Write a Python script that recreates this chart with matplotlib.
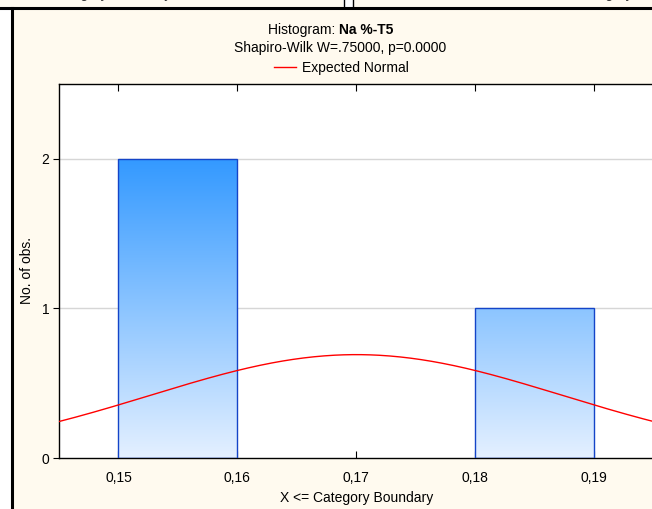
import numpy as np
import matplotlib
matplotlib.use("Agg")
import matplotlib.pyplot as plt
from matplotlib.colors import LinearSegmentedColormap
from matplotlib.lines import Line2D
from matplotlib.patches import Rectangle

plt.rcParams['font.family'] = ['Liberation Sans', 'DejaVu Sans']

# data
bin_left = [0.15, 0.18]
bin_right = [0.16, 0.19]
counts = [2, 1]
observations = [0.16, 0.16, 0.19]   # X <= upper boundary
bin_width = 0.01
x_ticks = [0.15, 0.16, 0.17, 0.18, 0.19]
x_tick_labels = ["0,15", "0,16", "0,17", "0,18", "0,19"]
y_ticks = [0, 1, 2]

W, H = 652, 509
cream = "#fffaef"

fig = plt.figure(figsize=(W / 100, H / 100), dpi=100, facecolor=cream)

def px(x, y):
    # pixel coords (origin top-left) -> figure fraction
    return x / W, 1 - y / H

# panel frame bits (cropped screenshot)
fig.add_artist(Rectangle((0, 0), 11 / W, 1 - 9 / H, transform=fig.transFigure,
                         facecolor="white", edgecolor="none", zorder=0))
fig.add_artist(Rectangle((343 / W, 1 - 8 / H), 10 / W, 8 / H, transform=fig.transFigure,
                         facecolor="white", edgecolor="none", zorder=0))
fig.add_artist(Line2D([0, 1], [1 - 8 / H] * 2, transform=fig.transFigure, color="black", lw=2.2))
fig.add_artist(Line2D([11.5 / W] * 2, [0, 1 - 8 / H], transform=fig.transFigure, color="black", lw=2.2))
for xx in (343.5, 352.5):
    fig.add_artist(Line2D([xx / W] * 2, [1 - 8 / H, 1], transform=fig.transFigure, color="black", lw=1))
# x labels of the panels above, cropped by the screenshot
fig.text(*px(95, -2), "X <= Category Boundary", ha="center", va="baseline", fontsize=10, color="#333333")
fig.text(*px(620, -2), "X <= Category Boundary", ha="center", va="baseline", fontsize=10, color="#333333")

ax = fig.add_axes([59 / W, (H - 458) / H, (653.5 - 59) / W, (458 - 84) / H])
ax.set_facecolor("white")

# gridlines
for yv in y_ticks[1:]:
    ax.axhline(yv, color="#d6d6d6", lw=1, zorder=1)

# gradient-filled bars
cmap = LinearSegmentedColormap.from_list("bluegrad", ["#e4f0ff", "#3399ff"])
grad = np.linspace(0, 1, 256).reshape(-1, 1)
top = max(counts)
for l, r, c in zip(bin_left, bin_right, counts):
    rect = Rectangle((l, 0), r - l, c, facecolor="none", edgecolor="#1444c8", lw=1, zorder=3)
    ax.add_patch(rect)
    im = ax.imshow(grad, cmap=cmap, origin="lower", extent=[l, r, 0, top],
                   aspect="auto", zorder=2, interpolation="bilinear")
    im.set_clip_path(rect)
ax.set_xlim(0.145, 0.195)
ax.set_ylim(0, 2.5)

# expected normal curve
obs = np.array(observations)
mu, sd = obs.mean(), obs.std(ddof=1)
xs = np.linspace(0.145, 0.195, 400)
ys = len(obs) * bin_width / (sd * np.sqrt(2 * np.pi)) * np.exp(-(xs - mu) ** 2 / (2 * sd ** 2))
ax.plot(xs, ys, color="#ff0000", lw=1, zorder=4)

ax.set_xticks(x_ticks)
ax.set_xticklabels(x_tick_labels)
ax.set_yticks(y_ticks)
ax.tick_params(axis="x", direction="in", length=5, pad=9, labelsize=10, top=True)
ax.tick_params(axis="y", direction="out", length=4, pad=3, labelsize=10)
for s in ax.spines.values():
    s.set_linewidth(1)
ax.set_xlabel("X <= Category Boundary", fontsize=10, labelpad=5)
ax.set_ylabel("No. of obs.", fontsize=10)
ax.yaxis.set_label_coords((34 - 59) / (653.5 - 59), 0.5)

# titles and legend
fig.text(*px(339, 34), "Histogram: ", ha="right", va="baseline", fontsize=10)
fig.text(*px(339, 34), "Na %-T5", ha="left", va="baseline", fontsize=10, fontweight="bold")
fig.text(*px(340, 52), "Shapiro-Wilk W=.75000, p=0.0000", ha="center", va="baseline", fontsize=10)
fig.add_artist(Line2D([274 / W, 296 / W], [1 - 67 / H] * 2, transform=fig.transFigure, color="red", lw=1))
fig.text(*px(302, 72), "Expected Normal", ha="left", va="baseline", fontsize=10)

fig.savefig("out.png", dpi=100, facecolor=cream)
